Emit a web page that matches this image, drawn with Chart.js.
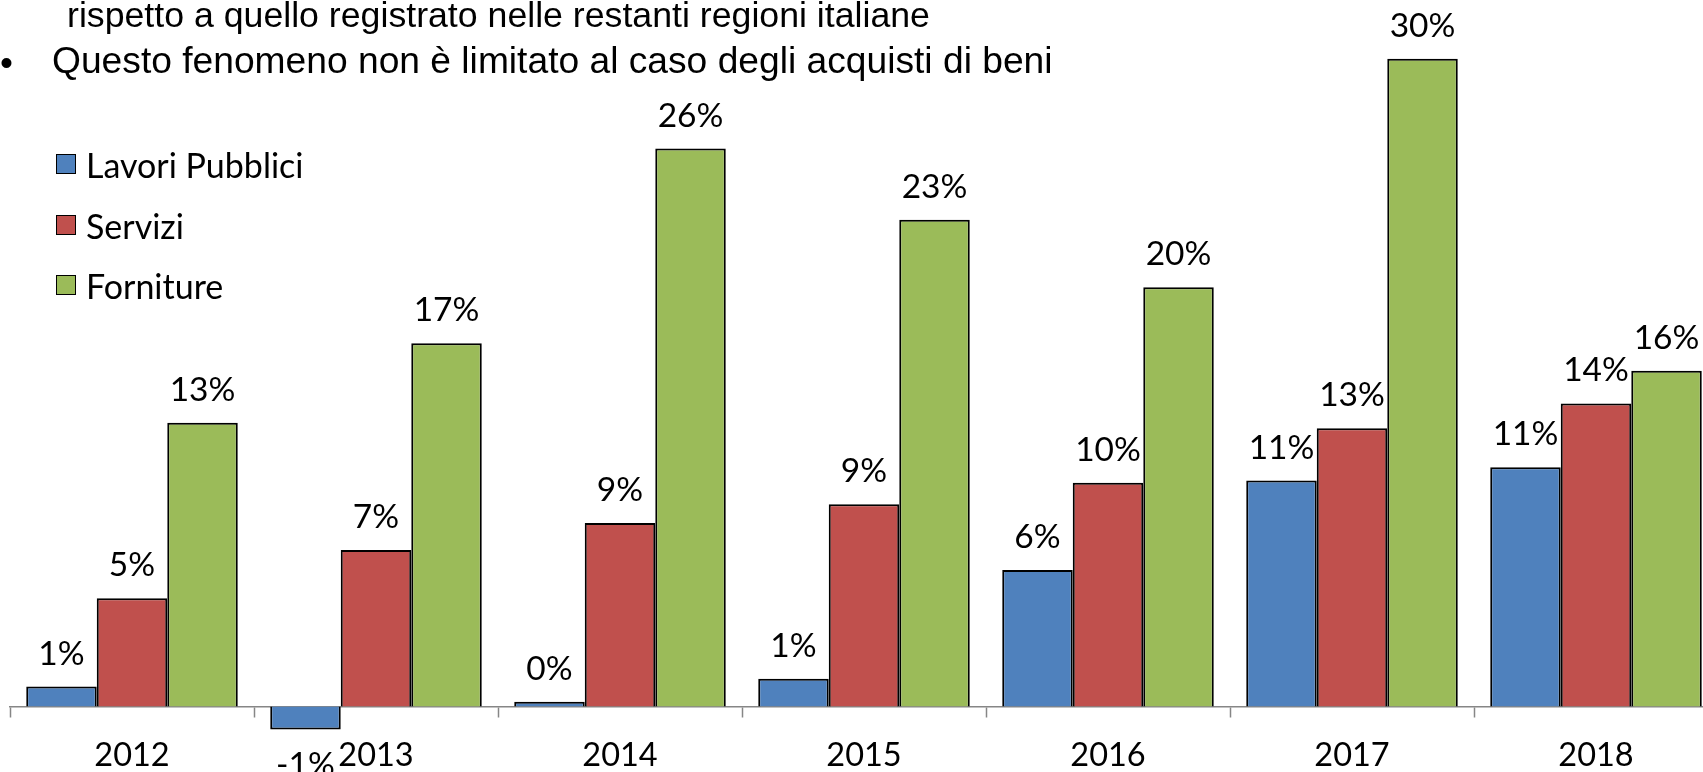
<!DOCTYPE html>
<html lang="it">
<head>
<meta charset="utf-8">
<title>Lavori, Servizi, Forniture</title>
<script src="https://cdn.jsdelivr.net/npm/chart.js"></script>
<style>
	html, body { margin: 0; padding: 0; background: #fff; overflow: hidden; }
	#wrap { position: relative; width: 1703px; height: 772px; overflow: hidden; }
	#myChart { position: absolute; left: 0; top: 0; }
	.txt { position: absolute; font-family: "Liberation Sans", Arial, sans-serif; font-size: 37px; line-height: 37px; color: #000; white-space: nowrap; }
	.leg { position: absolute; left: 56px; height: 34px; font-family: Lato, sans-serif; font-size: 34px; line-height: 34px; white-space: nowrap; }
	.leg span.box { position: absolute; left: 0; top: 6px; width: 18px; height: 18px; border: 1.5px solid #000; }
	.leg span.lab { position: absolute; left: 30px; top: 0; }
</style>
</head>
<body>
<div id="wrap">
	<canvas id="myChart" width="1730" height="772"></canvas>

	<div class="txt" style="left:67px; top:-3px; font-size:35.7px;">rispetto a quello registrato nelle restanti regioni italiane</div>
	<div class="txt" style="left:0px; top:44px;">•</div>
	<div class="txt" style="left:52px; top:42px; font-size:37.2px;">Questo fenomeno non è limitato al caso degli acquisti di beni</div>

	<div id="legend"></div>
</div>

<script>
	// anni
	const years = ['2012', '2013', '2014', '2015', '2016', '2017', '2018'];

	// valori in %
	const lavoriPubblici = [0.93, -1.07, 0.22, 1.30, 6.38, 10.56, 11.18];
	const servizi        = [5.06, 7.31, 8.57, 9.45, 10.45, 13.0, 14.16];
	const forniture      = [13.26, 16.97, 26.07, 22.75, 19.59, 30.27, 15.69];

	const seriesNames  = ['Lavori Pubblici', 'Servizi', 'Forniture'];
	const seriesColors = ['#4F81BD', '#C0504D', '#9BBB59'];

	// legenda html
	const legendDiv = document.getElementById('legend');
	const legendTops = [148, 209, 269];
	seriesNames.forEach(function (name, i) {
		const row = document.createElement('div');
		row.className = 'leg';
		row.style.top = legendTops[i] + 'px';
		row.innerHTML = '<span class="box" style="background:' + seriesColors[i] + '"></span><span class="lab">' + name + '</span>';
		legendDiv.appendChild(row);
	});

	// etichette sopra/sotto le barre
	const barLabels = {
		id: 'barLabels',
		afterDatasetsDraw(chart) {
			const ctx = chart.ctx;
			ctx.save();
			ctx.font = '33.5px Lato';
			ctx.fillStyle = '#000';
			ctx.textAlign = 'center';
			ctx.textBaseline = 'alphabetic';
			chart.data.datasets.forEach(function (ds, di) {
				const meta = chart.getDatasetMeta(di);
				meta.data.forEach(function (bar, i) {
					const v = ds.data[i];
					const txt = Math.round(v) + '%';
					if (v >= 0)
						ctx.fillText(txt, bar.x, bar.y - 22);
					else
						ctx.fillText(txt, bar.x, bar.y + 47);
				});
			});
			ctx.restore();
		}
	};

	const data = {
		labels: years,
		datasets: [
			{ label: seriesNames[0], data: lavoriPubblici, backgroundColor: seriesColors[0] },
			{ label: seriesNames[1], data: servizi,        backgroundColor: seriesColors[1] },
			{ label: seriesNames[2], data: forniture,      backgroundColor: seriesColors[2] }
		]
	};

	const myChart = new Chart(document.getElementById('myChart'), {
		type: 'bar',
		data: data,
		plugins: [barLabels],
		options: {
			responsive: false,
			animation: false,
			devicePixelRatio: 1,
			layout: { padding: { left: 10, right: 12, top: 43.1, bottom: 1.3 } },
			datasets: {
				bar: {
					categoryPercentage: 0.867,
					barPercentage: 1.0,
					borderColor: '#000',
					borderWidth: 2
				}
			},
			plugins: {
				legend: { display: false },
				tooltip: { enabled: false }
			},
			scales: {
				x: {
					position: { y: 0 },
					z: 1,
					grid: {
						display: true,
						drawOnChartArea: false,
						drawTicks: true,
						tickLength: 10,
						tickWidth: 1.5,
						tickColor: '#868686',
						offset: true
					},
					border: { display: true, color: '#868686', width: 1.5 },
					ticks: {
						color: '#000',
						padding: 20,
						font: { family: 'Lato', size: 32.5 },
						maxRotation: 0
					}
				},
				y: {
					display: false,
					min: -3,
					max: 31
				}
			}
		}
	});
</script>
</body>
</html>
